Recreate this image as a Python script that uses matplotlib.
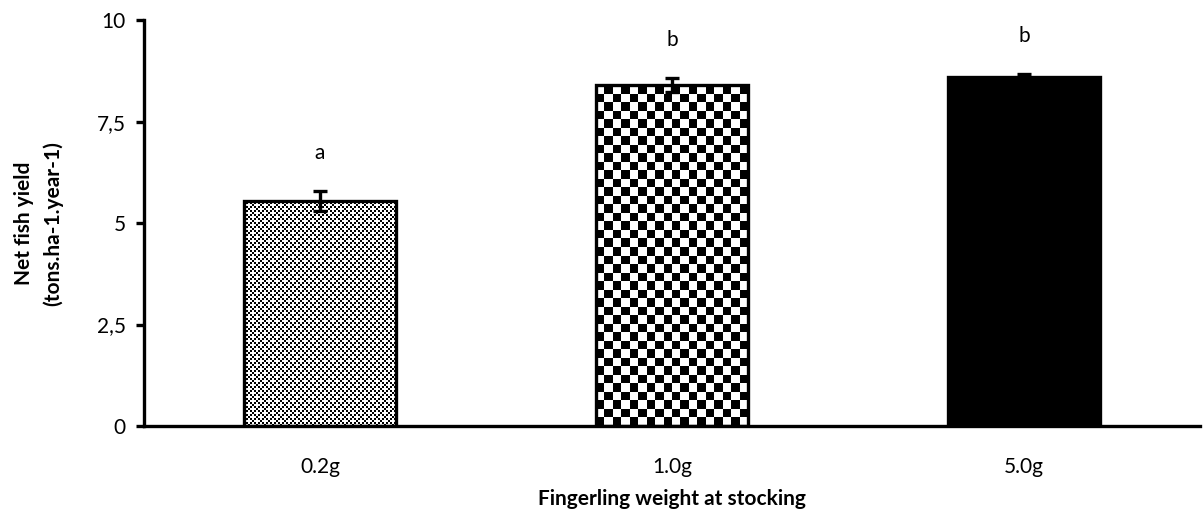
import numpy as np
import matplotlib
matplotlib.use("Agg")
import matplotlib.pyplot as plt

# Data
categories = ["0.2g", "1.0g", "5.0g"]
yield_mean = [5.55, 8.40, 8.60]
yield_err = [0.25, 0.17, 0.08]
letters = ["a", "b", "b"]

plt.rcParams['font.family'] = ['Lato', 'DejaVu Sans']


def checker(nx, ny):
    """Checkerboard array of nx by ny cells."""
    xx, yy = np.meshgrid(np.arange(nx), np.arange(ny))
    return ((xx + yy) % 2).astype(float)


def fine_dots(nx, ny):
    """Fine checker with sparse white dots, looks grey from afar."""
    arr = checker(nx, ny)
    xx, yy = np.meshgrid(np.arange(nx), np.arange(ny))
    dots = ((xx % 4 == 0) & (yy % 4 == 0)) | ((xx % 4 == 2) & (yy % 4 == 2))
    arr[dots] = 1.0
    return arr


def fill_bar(ax, bar, cell_px, pattern):
    """Paint a pattern image inside a bar, cells of cell_px screen pixels."""
    x0, y0 = bar.get_x(), bar.get_y()
    x1, y1 = x0 + bar.get_width(), y0 + bar.get_height()
    (px0, py0), (px1, py1) = ax.transData.transform([(x0, y0), (x1, y1)])
    nx = max(1, int(round((px1 - px0) / cell_px)))
    ny = max(1, int(round((py1 - py0) / cell_px)))
    img = ax.imshow(pattern(nx, ny), cmap="gray", vmin=0, vmax=1,
                    extent=(x0, x1, y0, y1), origin="lower",
                    interpolation="nearest", aspect="auto", zorder=2)
    img.set_clip_path(bar)


fig = plt.figure(figsize=(12.04, 5.17), dpi=100)
ax = fig.add_axes([0.1196, 0.176, 0.877, 0.785])

x = np.arange(len(categories))
bars = ax.bar(x, yield_mean, width=0.43, color=["white", "white", "black"],
              edgecolor="black", linewidth=2.4, zorder=3)
# keep edges on top, faces drawn by images
for b in bars[:2]:
    b.set_facecolor("none")

ax.set_xlim(-0.5, 2.5)
ax.set_ylim(0, 10)
fig.canvas.draw()

fill_bar(ax, bars[0], 2.0, fine_dots)
fill_bar(ax, bars[1], 8.6, checker)

ax.errorbar(x, yield_mean, yerr=yield_err, fmt="none", ecolor="black",
            elinewidth=2.4, capsize=5, capthick=2.4, zorder=4)

for xi, m, e, lab in zip(x, yield_mean, yield_err, letters):
    ax.annotate(lab, (xi, m + e), xytext=(0, 20), textcoords="offset points",
                ha="center", va="bottom", fontsize=15)

ax.set_yticks([0, 2.5, 5, 7.5, 10])
ax.set_yticklabels(["0", "2,5", "5", "7,5", "10"])
ax.set_xticks(x)
ax.set_xticklabels(categories)
ax.tick_params(axis="y", direction="out", length=6, width=2.4, labelsize=15, pad=7)
ax.tick_params(axis="x", length=0, labelsize=15, pad=22)

for side in ["top", "right"]:
    ax.spines[side].set_visible(False)
for side in ["left", "bottom"]:
    ax.spines[side].set_linewidth(2.4)

ax.set_ylabel("Net fish yield\n(tons.ha-1.year-1)", fontsize=15,
              fontweight="bold", labelpad=24, linespacing=1.55)
ax.set_xlabel("Fingerling weight at stocking", fontsize=15,
              fontweight="bold", labelpad=9)

fig.savefig("out.png", dpi=100)
